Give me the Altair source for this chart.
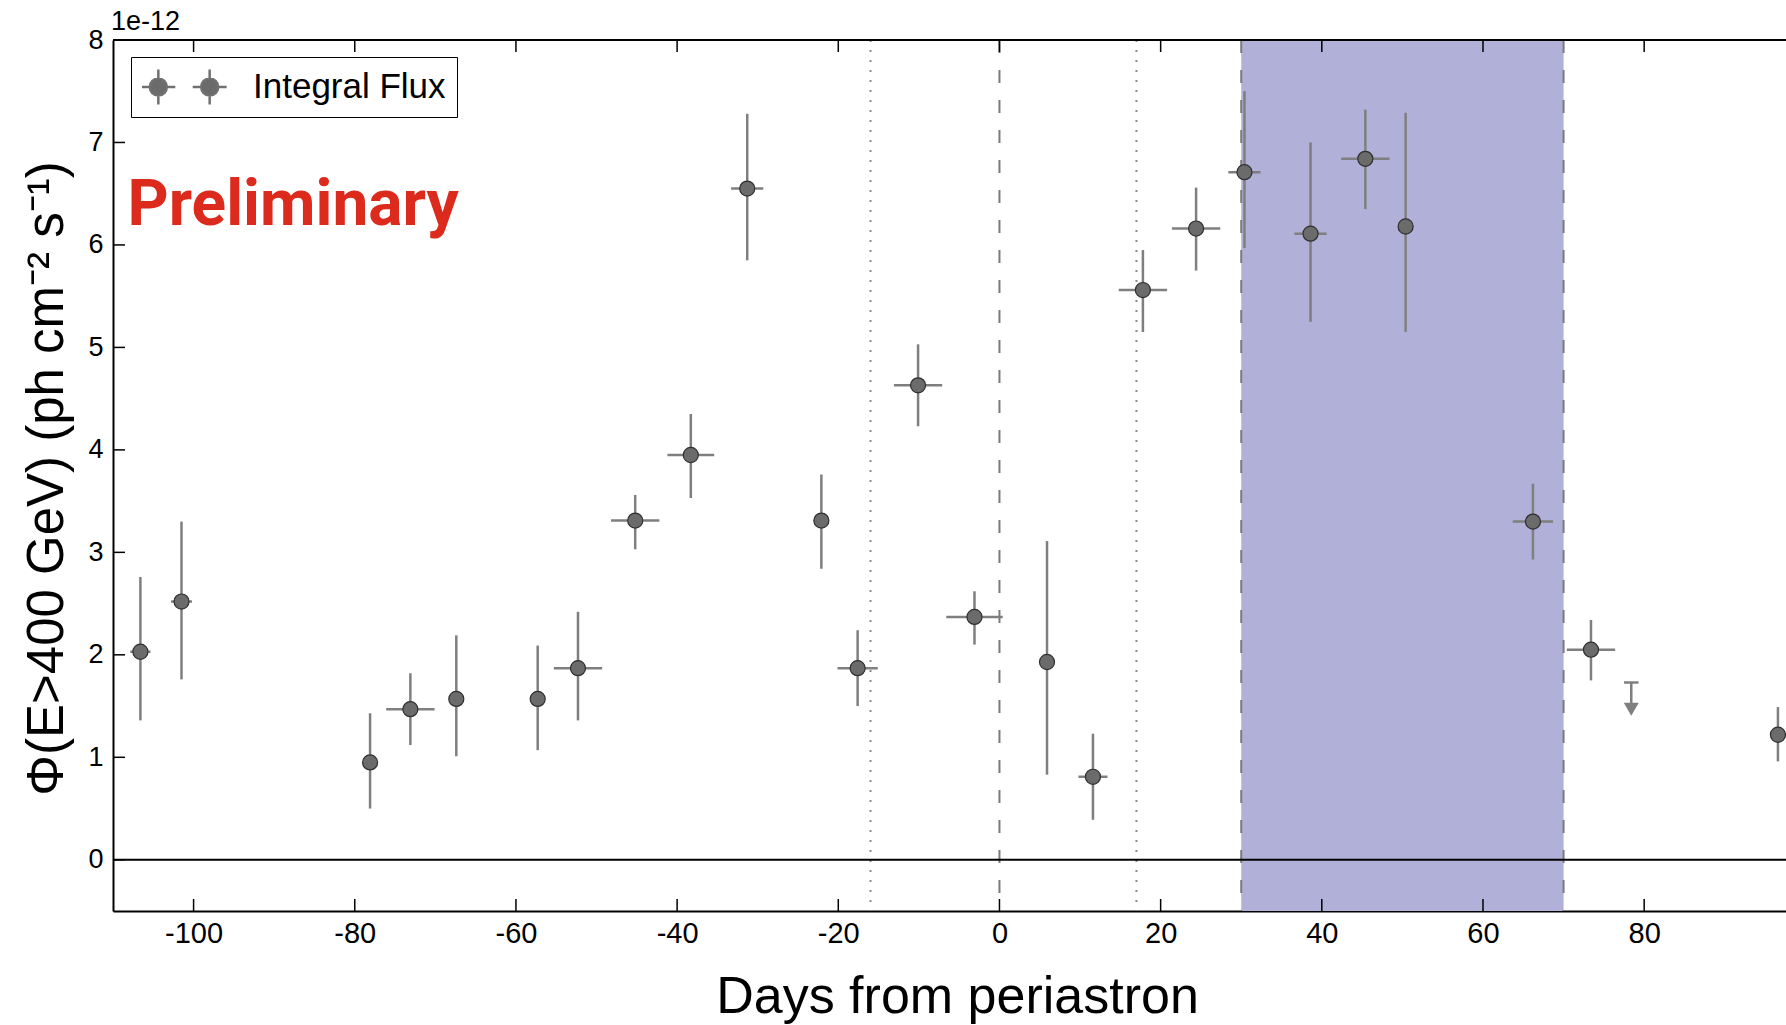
import altair as alt
import pandas as pd

# ---- data ----
days = [-106.6, -101.5, -78.1, -73.1, -67.4, -57.3, -52.3, -45.2, -38.3, -31.3,
        -22.1, -17.6, -10.1, -3.1, 5.9, 11.6, 17.8, 24.4, 30.4, 38.6,
        45.4, 50.4, 66.2, 73.4, 96.6]
flux = [2.03, 2.52, 0.95, 1.47, 1.57, 1.57, 1.87, 3.31, 3.95, 6.55,
        3.31, 1.87, 4.63, 2.37, 1.93, 0.81, 5.56, 6.16, 6.71, 6.11,
        6.84, 6.18, 3.30, 2.05, 1.22]
flux_hi = [2.76, 3.30, 1.43, 1.82, 2.19, 2.09, 2.42, 3.56, 4.35, 7.28,
           3.76, 2.24, 5.03, 2.62, 3.11, 1.23, 5.95, 6.56, 7.50, 7.00,
           7.32, 7.29, 3.67, 2.34, 1.49]
flux_lo = [1.36, 1.76, 0.50, 1.12, 1.01, 1.07, 1.36, 3.03, 3.53, 5.85,
           2.84, 1.50, 4.23, 2.10, 0.83, 0.39, 5.15, 5.75, 5.97, 5.25,
           6.35, 5.15, 2.93, 1.75, 0.96]
day_err = [1.25, 1.3, 0.0, 3.0, 0.0, 0.0, 3.0, 3.0, 2.9, 2.0,
           0.0, 2.5, 3.0, 3.5, 0.0, 1.8, 3.0, 3.0, 2.0, 2.0,
           3.0, 0.0, 2.5, 3.0, 0.0]

ul_day = [78.4]
ul_flux = [1.73]
ul_arrow = [1.47]
ul_cap = [0.9]

x_ticks = [-100, -80, -60, -40, -20, 0, 20, 40, 60, 80]
y_ticks = [0, 1, 2, 3, 4, 5, 6, 7, 8]
dotted_lines = [-16, 17]
dashed_lines = [0, 30, 70]
shade_start, shade_end = [30], [70]

X_DOMAIN = [-110, 97.6]
Y_DOMAIN = [-0.5, 8]
W, H = 1673, 871

df = pd.DataFrame({"day": days, "flux": flux, "hi": flux_hi, "lo": flux_lo,
                   "dlo": [d - e for d, e in zip(days, day_err)],
                   "dhi": [d + e for d, e in zip(days, day_err)],
                   "series": ["Integral Flux"] * len(days)})
ul = pd.DataFrame({"day": ul_day, "flux": ul_flux, "arrow": ul_arrow,
                   "c1": [d - c for d, c in zip(ul_day, ul_cap)],
                   "c2": [d + c for d, c in zip(ul_day, ul_cap)]})

xs = alt.Scale(domain=X_DOMAIN, nice=False, zero=False)
ys = alt.Scale(domain=Y_DOMAIN, nice=False, zero=False)

FONT = "Liberation Sans"
HYPHEN = "datum.value < 0 ? '-' + abs(datum.value) : '' + datum.value"

x_axis = alt.Axis(values=x_ticks, ticks=False, tickSize=0, grid=False,
                  domainColor="black", domainWidth=2, labelFont=FONT,
                  labelFontSize=29, labelColor="black", labelPadding=8,
                  labelFlush=False, labelExpr=HYPHEN,
                  title="Days from periastron",
                  titleFont=FONT, titleFontSize=52, titleFontWeight="normal",
                  titleColor="black", titleX=844, titleY=101,
                  titleBaseline="alphabetic", titleAlign="center")
y_axis = alt.Axis(values=y_ticks, ticks=False, tickSize=0, grid=False,
                  domainColor="black", domainWidth=2, labelFont=FONT,
                  labelFontSize=27, labelColor="black", labelPadding=10,
                  labelFlush=False, labelExpr=HYPHEN,
                  title="Φ(E>400 GeV) (ph cm⁻² s⁻¹)",
                  titleFont=FONT, titleFontSize=51, titleFontWeight="normal",
                  titleColor="black", titleX=-66, titleY=438, titleAngle=270,
                  titleBaseline="middle", titleAlign="center")

shade = alt.Chart(pd.DataFrame({"s": shade_start, "e": shade_end})).mark_rect(
    color="#b0b0d9", opacity=1).encode(
    x=alt.X("s:Q", scale=xs, axis=x_axis), x2="e:Q")

dotted = alt.Chart(pd.DataFrame({"v": dotted_lines})).mark_rule(
    color="#8a8a8a", strokeWidth=2, strokeDash=[2, 8]).encode(
    x=alt.X("v:Q", scale=xs))
dashed = alt.Chart(pd.DataFrame({"v": dashed_lines})).mark_rule(
    color="#7a7a7a", strokeWidth=2, strokeDash=[13, 17]).encode(
    x=alt.X("v:Q", scale=xs))

hlines = alt.Chart(pd.DataFrame({"v": [0, Y_DOMAIN[1]]})).mark_rule(
    color="black", strokeWidth=2).encode(
    y=alt.Y("v:Q", scale=ys, axis=y_axis))

xt = pd.DataFrame({"t": x_ticks})
yt = pd.DataFrame({"t": y_ticks})
tick_bottom = alt.Chart(xt).mark_rule(color="black", strokeWidth=1.5).encode(
    x=alt.X("t:Q", scale=xs), y=alt.value(H), y2=alt.value(H - 12))
tick_top = alt.Chart(xt).mark_rule(color="black", strokeWidth=1.5).encode(
    x=alt.X("t:Q", scale=xs), y=alt.value(0), y2=alt.value(12))
tick_left = alt.Chart(yt).mark_rule(color="black", strokeWidth=1.5).encode(
    y=alt.Y("t:Q", scale=ys), x=alt.value(0), x2=alt.value(12))

ebar_y = alt.Chart(df).mark_rule(color="#7f7f7f", strokeWidth=2.5).encode(
    x=alt.X("day:Q", scale=xs), y=alt.Y("lo:Q", scale=ys), y2="hi:Q")
ebar_x = alt.Chart(df).mark_rule(color="#7f7f7f", strokeWidth=2.5).encode(
    x=alt.X("dlo:Q", scale=xs), x2="dhi:Q", y=alt.Y("flux:Q", scale=ys))

sym = ("M-0.98,0L-0.79,0M-0.39,0L-0.2,0M-0.59,-0.4L-0.59,-0.2M-0.59,0.2L-0.59,0.4"
       "M-0.785,0A0.195,0.195,0,1,0,-0.395,0A0.195,0.195,0,1,0,-0.785,0Z"
       "M0.2,0L0.39,0M0.79,0L0.98,0M0.59,-0.4L0.59,-0.2M0.59,0.2L0.59,0.4"
       "M0.395,0A0.195,0.195,0,1,0,0.785,0A0.195,0.195,0,1,0,0.395,0Z")

legend = alt.Legend(title=None, orient="none", legendX=18, legendY=17,
                    symbolType=sym, symbolSize=7569, clipHeight=38,
                    padding=11, labelOffset=24, symbolOffset=-3,
                    labelFont=FONT, labelFontSize=35, labelColor="black",
                    labelLimit=600,
                    strokeColor="black", fillColor="white",
                    symbolStrokeColor="#707070", symbolStrokeWidth=2.5,
                    symbolFillColor="#6b6b6b", symbolOpacity=1)

points = alt.Chart(df).mark_point(filled=True, shape="circle", size=227,
                                  opacity=1, stroke="#2f2f2f", strokeWidth=1.2,
                                  clip=True).encode(
    x=alt.X("day:Q", scale=xs), y=alt.Y("flux:Q", scale=ys),
    color=alt.Color("series:N", scale=alt.Scale(range=["#6b6b6b"]), legend=legend))

ul_vert = alt.Chart(ul).mark_rule(color="#7f7f7f", strokeWidth=2.5).encode(
    x=alt.X("day:Q", scale=xs), y=alt.Y("flux:Q", scale=ys), y2="arrow:Q")
ul_capm = alt.Chart(ul).mark_rule(color="#7f7f7f", strokeWidth=2.5).encode(
    x=alt.X("c1:Q", scale=xs), x2="c2:Q", y=alt.Y("flux:Q", scale=ys))
ul_head = alt.Chart(ul).mark_point(filled=True, shape="triangle-down", size=225,
                                   opacity=1, color="#7f7f7f").encode(
    x=alt.X("day:Q", scale=xs), y=alt.Y("arrow:Q", scale=ys))

prelim = alt.Chart(pd.DataFrame({"x": [-108.2], "y": [6.19], "t": ["Preliminary"]})).mark_text(
    font="Roboto", fontWeight="bold", fontSize=64, color="#dc2a1c",
    align="left", baseline="alphabetic").encode(
    x=alt.X("x:Q", scale=xs), y=alt.Y("y:Q", scale=ys), text="t:N")

chart = alt.layer(
    shade, dotted, dashed, hlines, tick_bottom, tick_top, tick_left,
    ebar_y, ebar_x, ul_vert, ul_capm, ul_head, points, prelim
).properties(
    width=W, height=H,
    title=alt.TitleParams("1e-12", anchor="start", frame="group", fontSize=27,
                          fontWeight="normal", font=FONT, color="black",
                          offset=7, dy=17, dx=-2),
    autosize=alt.AutoSizeParams(type="none"),
    padding={"left": 113, "top": 40, "right": 0, "bottom": 114},
).configure_view(stroke=None).configure_legend(strokeWidth=2).configure(background="white")

chart.save("out.html", embed_options={"renderer": "svg", "actions": False})
